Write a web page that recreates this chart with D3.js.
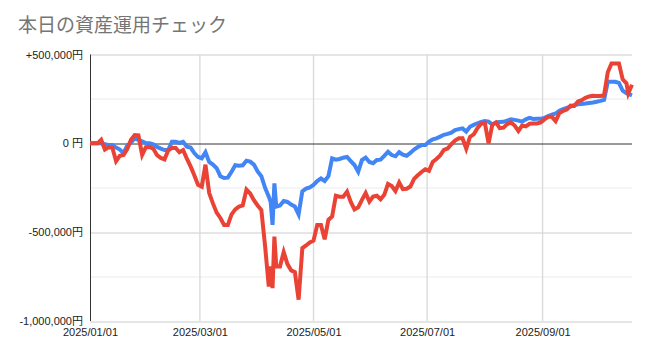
<!DOCTYPE html>
<html>
<head>
<meta charset="utf-8">
<script src="https://cdn.jsdelivr.net/npm/d3@7"></script>
<style>
  body { margin: 0; background: #fff; }
  .tick text { font-family: "Liberation Sans", Arial, "Noto Sans CJK JP", sans-serif; font-size: 11px; fill: #222; }
</style>
</head>
<body>
<div id="chart"></div>
<script>
// daily readings (every ~2 days)
var dates = [
  "2025-01-01","2025-01-03","2025-01-05","2025-01-07","2025-01-09","2025-01-11","2025-01-13","2025-01-15","2025-01-17","2025-01-19",
  "2025-01-21","2025-01-23","2025-01-25","2025-01-27","2025-01-29","2025-01-31","2025-02-02","2025-02-04","2025-02-06","2025-02-08",
  "2025-02-10","2025-02-12","2025-02-14","2025-02-16","2025-02-18","2025-02-20","2025-02-22","2025-02-24","2025-02-26","2025-02-28",
  "2025-03-02","2025-03-04","2025-03-06","2025-03-08","2025-03-10","2025-03-12","2025-03-14","2025-03-16","2025-03-18","2025-03-20",
  "2025-03-22","2025-03-24","2025-03-26","2025-03-28","2025-03-30","2025-04-01","2025-04-03","2025-04-05","2025-04-07","2025-04-08",
  "2025-04-09","2025-04-10","2025-04-11","2025-04-13","2025-04-15","2025-04-17","2025-04-19","2025-04-21","2025-04-23","2025-04-25",
  "2025-04-27","2025-04-29","2025-05-01","2025-05-03","2025-05-05","2025-05-07","2025-05-09","2025-05-11","2025-05-13","2025-05-15",
  "2025-05-17","2025-05-19","2025-05-21","2025-05-23","2025-05-25","2025-05-27","2025-05-29","2025-05-31","2025-06-02","2025-06-04",
  "2025-06-06","2025-06-08","2025-06-10","2025-06-12","2025-06-14","2025-06-16","2025-06-18","2025-06-20","2025-06-22","2025-06-24",
  "2025-06-26","2025-06-28","2025-06-30","2025-07-02","2025-07-04","2025-07-06","2025-07-08","2025-07-10","2025-07-12","2025-07-14",
  "2025-07-16","2025-07-18","2025-07-20","2025-07-22","2025-07-24","2025-07-26","2025-07-28","2025-07-30","2025-08-01","2025-08-03",
  "2025-08-05","2025-08-07","2025-08-09","2025-08-11","2025-08-13","2025-08-15","2025-08-17","2025-08-19","2025-08-21","2025-08-23",
  "2025-08-25","2025-08-27","2025-08-29","2025-08-31","2025-09-02","2025-09-04","2025-09-06","2025-09-08","2025-09-10","2025-09-12",
  "2025-09-14","2025-09-16","2025-09-18","2025-09-20","2025-09-22","2025-09-24","2025-09-26","2025-09-28","2025-09-30","2025-10-02",
  "2025-10-04","2025-10-06","2025-10-08","2025-10-10","2025-10-12","2025-10-14","2025-10-16","2025-10-17","2025-10-19"
];

var blueValues = [
  0, 0, 0, 0, -5000, -10000, -10000, -24000, -35000, -55000,
  -12000, 5000, 28000, 19000, 11000, 2000, 0, -6000, -20000, -30000,
  -38000, -38000, 9000, 9000, 2000, 9000, -19000, -24000, -55000, -77000,
  -84000, -50000, -105000, -120000, -140000, -185000, -195000, -193000, -160000, -123000,
  -126000, -124000, -98000, -103000, -120000, -158000, -185000, -250000, -300000, -330000,
  -459000, -225000, -356000, -350000, -325000, -330000, -345000, -356000, -400000, -270000,
  -255000, -248000, -234000, -212000, -198000, -212000, -185000, -85000, -92000, -88000,
  -81000, -77000, -100000, -122000, -160000, -94000, -80000, -105000, -112000, -94000,
  -92000, -70000, -48000, -66000, -73000, -50000, -64000, -70000, -54000, -35000,
  -21000, -10000, -10000, 10000, 22000, 28000, 38000, 48000, 53000, 60000,
  75000, 80000, 84000, 66000, 93000, 104000, 113000, 121000, 125000, 122000,
  105000, 117000, 120000, 121000, 128000, 135000, 132000, 128000, 122000, 135000,
  143000, 137000, 138000, 139000, 143000, 153000, 162000, 168000, 184000, 192000,
  200000, 207000, 215000, 220000, 222000, 224000, 227000, 230000, 234000, 239000,
  245000, 346000, 346000, 346000, 340000, 296000, 282000, 278000, 270000
];

var redValues = [
  0, 0, 0, 20000, -35000, -22000, -25000, -100000, -70000, -65000,
  -32000, 20000, 47000, 45000, -65000, -22000, -20000, -30000, -67000, -82000,
  -90000, -40000, -26000, -26000, -50000, -38000, -86000, -130000, -180000, -234000,
  -244000, -120000, -280000, -338000, -390000, -420000, -459000, -459000, -400000, -372000,
  -356000, -350000, -260000, -282000, -320000, -350000, -375000, -578000, -806000, -693000,
  -815000, -525000, -693000, -693000, -612000, -680000, -715000, -725000, -880000, -590000,
  -575000, -558000, -548000, -459000, -459000, -540000, -431000, -412000, -295000, -300000,
  -300000, -272000, -330000, -372000, -360000, -318000, -280000, -328000, -300000, -295000,
  -315000, -290000, -228000, -240000, -268000, -220000, -258000, -256000, -243000, -200000,
  -180000, -161000, -146000, -155000, -105000, -88000, -68000, -37000, -29000, -5000,
  15000, 28000, 28000, -30000, 36000, 50000, 85000, 110000, 115000, 0,
  105000, 118000, 86000, 88000, 108000, 118000, 100000, 70000, 100000, 95000,
  110000, 112000, 112000, 118000, 135000, 149000, 149000, 125000, 170000, 182000,
  190000, 212000, 210000, 236000, 243000, 256000, 264000, 268000, 266000, 267000,
  271000, 400000, 449000, 449000, 449000, 360000, 338000, 281000, 330000
];

var chartTitle = "本日の資産運用チェック";
var yTicks = [500000, 0, -500000, -1000000];
var yTickLabels = ["+500,000円", "0 円", "-500,000円", "-1,000,000円"];
var yMinorTicks = [250000, -250000, -750000];
var xTicks = ["2025-01-01", "2025-03-01", "2025-05-01", "2025-07-01", "2025-09-01"];

var totalWidth = 650, totalHeight = 356;
var margin = { top: 54.5, right: 18, bottom: 35, left: 90 };
var width = totalWidth - margin.left - margin.right;
var height = totalHeight - margin.top - margin.bottom;

var parseDate = d3.timeParse("%Y-%m-%d");
var data = dates.map(function (d, i) {
  return { date: parseDate(d), blue: blueValues[i], red: redValues[i] };
});

var xScale = d3.scaleTime()
  .domain(d3.extent(data, d => d.date))
  .range([0, width]);

var yScale = d3.scaleLinear()
  .domain([-1000000, 500000])
  .range([height, 0]);

var svg = d3.select("#chart")
  .append("svg")
  .attr("width", totalWidth)
  .attr("height", totalHeight);

svg.append("text")
  .attr("x", 18)
  .attr("y", 32)
  .style("font-family", "'Noto Sans CJK JP', sans-serif")
  .style("font-size", "19px")
  .style("fill", "#757575")
  .text(chartTitle);

var g = svg.append("g")
  .attr("transform", `translate(${margin.left}, ${margin.top})`);

// minor horizontal gridlines
g.append("g")
  .selectAll("line")
  .data(yMinorTicks)
  .enter()
  .append("line")
  .attr("x1", 0)
  .attr("x2", width)
  .attr("y1", d => Math.round(yScale(d)) + 0.5)
  .attr("y2", d => Math.round(yScale(d)) + 0.5)
  .style("stroke", "#ebebeb");

// major horizontal gridlines (not zero)
g.append("g")
  .selectAll("line")
  .data(yTicks.filter(d => d !== 0))
  .enter()
  .append("line")
  .attr("x1", 0)
  .attr("x2", width)
  .attr("y1", d => Math.round(yScale(d)) + 0.5)
  .attr("y2", d => Math.round(yScale(d)) + 0.5)
  .style("stroke", "#cccccc");

// vertical gridlines
g.append("g")
  .selectAll("line")
  .data(xTicks.slice(1).map(parseDate))
  .enter()
  .append("line")
  .attr("x1", d => xScale(d))
  .attr("x2", d => xScale(d))
  .attr("y1", 0)
  .attr("y2", height)
  .style("stroke", "#d9d9d9")
  .style("stroke-width", 1.3);

// zero line and left axis line
g.append("line")
  .attr("x1", 0)
  .attr("x2", width)
  .attr("y1", Math.round(yScale(0)) + 0.5)
  .attr("y2", Math.round(yScale(0)) + 0.5)
  .style("stroke", "#333");

g.append("line")
  .attr("x1", 0.5)
  .attr("x2", 0.5)
  .attr("y1", 0)
  .attr("y2", height)
  .style("stroke", "#333");

// axes (labels only)
var yAxis = d3.axisLeft(yScale)
  .tickValues(yTicks)
  .tickFormat((d, i) => yTickLabels[i])
  .tickSize(0)
  .tickPadding(7);

g.append("g")
  .attr("class", "y axis")
  .call(yAxis)
  .call(s => s.select(".domain").remove());

var xAxis = d3.axisBottom(xScale)
  .tickValues(xTicks.map(parseDate))
  .tickFormat(d3.timeFormat("%Y/%m/%d"))
  .tickSize(0)
  .tickPadding(7);

g.append("g")
  .attr("class", "x axis")
  .attr("transform", `translate(0, ${height})`)
  .call(xAxis)
  .call(s => s.select(".domain").remove());

// lines
var blueLine = d3.line()
  .x(d => xScale(d.date))
  .y(d => yScale(d.blue));

var redLine = d3.line()
  .x(d => xScale(d.date))
  .y(d => yScale(d.red));

g.append("path")
  .datum(data)
  .attr("d", blueLine)
  .style("fill", "none")
  .style("stroke", "#4285f4")
  .style("stroke-width", 4);

g.append("path")
  .datum(data)
  .attr("d", redLine)
  .style("fill", "none")
  .style("stroke", "#ea4335")
  .style("stroke-width", 4);
</script>
</body>
</html>
